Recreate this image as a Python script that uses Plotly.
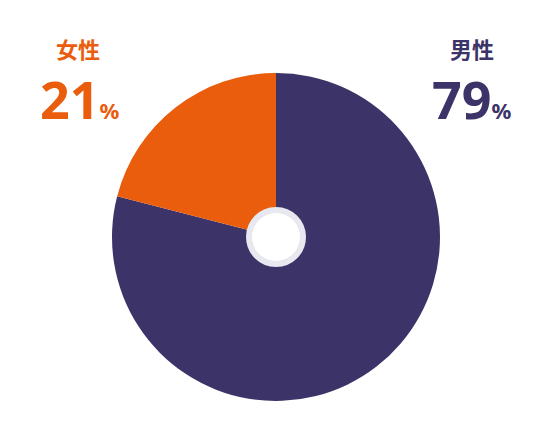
import plotly.graph_objects as go

labels = ["男性", "女性"]
values = [79, 21]
colors = ["#3C3468", "#EA5D0D"]

W, H = 550, 436
OFF = 8  # page body margin
cx, cy, r = 276 - OFF, 237 - OFF, 164
fig = go.Figure(go.Pie(
    labels=labels, values=values, marker=dict(colors=colors, line=dict(width=0)),
    sort=False, direction="clockwise", rotation=0, hole=0.15,
    textinfo="none", hoverinfo="label+percent",
    domain=dict(x=[(cx - r) / W, (cx + r) / W], y=[(H - cy - r) / H, (H - cy + r) / H]),
))
rr = 27
fig.add_shape(type="circle", xref="paper", yref="paper",
              x0=(cx - rr) / W, x1=(cx + rr) / W, y0=(H - cy - rr) / H, y1=(H - cy + rr) / H,
              line=dict(color="rgba(232,232,240,1)", width=6), fillcolor="rgba(0,0,0,0)")

def ann(x, y, text, color, size, family):
    fig.add_annotation(x=(x - OFF) / W, y=(H - y + OFF) / H, xref="paper", yref="paper", text=text,
                       showarrow=False, xanchor="center", yanchor="middle",
                       font=dict(family=family, size=size, color=color))

cjk = "Noto Sans CJK JP"
num = "Noto Sans"
ann(78, 48, "<b>" + labels[1] + "</b>", colors[1], 22, cjk)
ann(80, 98, f"<b>{values[1]}</b><b><span style='font-size:22px'>%</span></b>", colors[1], 52, num)
ann(472, 48, "<b>" + labels[0] + "</b>", colors[0], 22, cjk)
ann(472, 98, f"<b>{values[0]}</b><b><span style='font-size:22px'>%</span></b>", colors[0], 52, num)

fig.update_layout(width=W, height=H, margin=dict(l=0, r=0, t=0, b=0), showlegend=False,
                  paper_bgcolor="white", plot_bgcolor="white")
fig.write_html("out.html")
